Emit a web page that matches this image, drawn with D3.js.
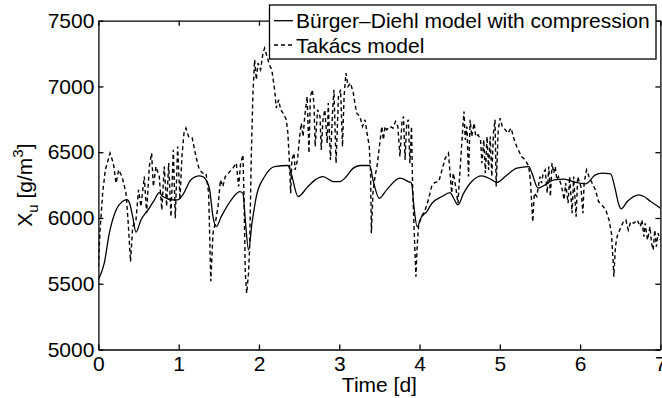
<!DOCTYPE html>
<html>
<head>
<meta charset="utf-8">
<script src="https://cdn.jsdelivr.net/npm/d3@7"></script>
<style>
  body { margin: 0; background: #fff; }
  text { font-family: "Liberation Sans", Arial, sans-serif; fill: #000; }
  .axis text { font-size: 21px; font-family: "Liberation Sans", Arial, sans-serif; }
  .axis path, .axis line { stroke: #000; stroke-width: 1.3px; }
</style>
</head>
<body>
<div id="chart"></div>
<script>
// Bürger-Diehl model with compression (solid)
var bdTime = [0, 0.073, 0.136, 0.22, 0.30, 0.355, 0.39, 0.427, 0.468, 0.53, 0.634, 0.70, 0.758, 0.80, 0.925, 0.987,
  1.05, 1.153, 1.257, 1.30, 1.34, 1.386, 1.427, 1.468, 1.53, 1.655, 1.76, 1.80, 1.83, 1.87, 1.913, 1.967,
  2.07, 2.195, 2.36, 2.40, 2.486, 2.61, 2.70, 2.797, 2.925, 3.01, 3.07, 3.175, 3.26, 3.38, 3.42, 3.50, 3.59,
  3.756, 3.86, 3.90, 3.93, 3.97, 4.026, 4.09, 4.155, 4.28, 4.38, 4.425, 4.478, 4.55, 4.65, 4.777, 4.90, 4.964,
  5.067, 5.213, 5.36, 5.40, 5.475, 5.565, 5.674, 5.80, 5.944, 6.07, 6.19, 6.275, 6.38, 6.43, 6.483, 6.51,
  6.587, 6.73, 6.795, 6.88, 7.0];
var bdValue = [5530, 5656, 5884, 6061, 6125, 6140, 6110, 6010, 5892, 5985, 6075, 6140, 6193, 6163, 6138, 6138,
  6176, 6290, 6320, 6315, 6290, 6214, 6010, 5934, 6010, 6138, 6201, 6189, 5985, 5757, 5960, 6163,
  6315, 6391, 6399, 6341, 6163, 6239, 6290, 6315, 6277, 6277, 6303, 6379, 6399, 6399, 6290, 6150, 6214,
  6303, 6277, 6265, 6087, 5934, 6010, 6049, 6112, 6163, 6193, 6150, 6100, 6189, 6277, 6320, 6290, 6270,
  6315, 6379, 6391, 6341, 6227, 6252, 6290, 6295, 6270, 6260, 6328, 6341, 6336, 6239, 6100, 6069,
  6125, 6176, 6163, 6125, 6075];

// Takács model (dashed)
var tkTime = [0, 0.02, 0.053, 0.086, 0.145, 0.186, 0.22, 0.253, 0.294, 0.344, 0.369, 0.40, 0.427, 0.468, 0.50,
  0.53, 0.572, 0.60, 0.634, 0.663, 0.684, 0.717, 0.758, 0.79, 0.82, 0.85, 0.875, 0.904, 0.933, 0.958, 0.987,
  1.016, 1.04, 1.066, 1.09, 1.124, 1.166, 1.215, 1.257, 1.30, 1.34, 1.373, 1.40, 1.427, 1.456, 1.49, 1.52,
  1.55, 1.58, 1.62, 1.676, 1.717, 1.747, 1.772, 1.80, 1.813, 1.83, 1.847, 1.87, 1.884, 1.905, 1.925, 1.946,
  1.967, 1.988, 2.02, 2.05, 2.07, 2.10, 2.13, 2.16, 2.195, 2.215, 2.245, 2.27, 2.30, 2.34, 2.36, 2.38, 2.395,
  2.41, 2.436, 2.45, 2.48, 2.507, 2.527, 2.55, 2.57, 2.60, 2.623, 2.64, 2.664, 2.685, 2.70, 2.73, 2.76, 2.776,
  2.797, 2.82, 2.85, 2.863, 2.89, 2.92, 2.934, 2.96, 2.99, 3.017, 3.04, 3.06, 3.083, 3.11, 3.14, 3.175,
  3.215, 3.257, 3.29, 3.32, 3.34, 3.374, 3.39, 3.40, 3.42, 3.445, 3.47, 3.50, 3.53, 3.55, 3.57, 3.59, 3.63,
  3.67, 3.70, 3.73, 3.756, 3.78, 3.80, 3.82, 3.84, 3.86, 3.88, 3.90, 3.914, 3.934, 3.955, 3.97, 3.99, 4.026,
  4.07, 4.11, 4.15, 4.19, 4.24, 4.28, 4.32, 4.36, 4.38, 4.40, 4.42, 4.45, 4.478, 4.507, 4.537, 4.553, 4.57,
  4.59, 4.61, 4.63, 4.65, 4.68, 4.70, 4.73, 4.76, 4.777, 4.80, 4.82, 4.84, 4.86, 4.88, 4.90, 4.92, 4.94,
  4.955, 4.98, 5.005, 5.03, 5.07, 5.10, 5.14, 5.18, 5.21, 5.24, 5.27, 5.317, 5.36, 5.38, 5.39, 5.41, 5.43,
  5.46, 5.48, 5.50, 5.52, 5.54, 5.565, 5.59, 5.61, 5.63, 5.65, 5.67, 5.69, 5.71, 5.73, 5.77, 5.80, 5.82,
  5.85, 5.87, 5.90, 5.92, 5.95, 5.97, 6.01, 6.035, 6.05, 6.08, 6.11, 6.15, 6.19, 6.23, 6.27, 6.32, 6.36,
  6.39, 6.41, 6.42, 6.44, 6.46, 6.51, 6.54, 6.57, 6.60, 6.63, 6.67, 6.71, 6.75, 6.77, 6.795, 6.81, 6.84,
  6.87, 6.89, 6.91, 6.93, 6.95, 6.97, 7.0];
var tkValue = [5630, 5900, 6189, 6366, 6493, 6417, 6265, 6366, 6315, 6189, 5985, 5668, 5934, 5985, 6214,
  6087, 6315, 6036, 6391, 6493, 6239, 6391, 6315, 6061, 6391, 6087, 6417, 6010, 6518, 5998, 6543,
  6138, 6467, 6645, 6683, 6619, 6615, 6467, 6366, 6341, 6341, 6189, 5520, 5884, 5960, 6087, 6290,
  6239, 6315, 6341, 6379, 6417, 6239, 6417, 6480, 6189, 5580, 5428, 5580, 5782, 6493, 6950, 7203,
  7051, 7178, 7127, 7254, 7292, 7228, 7165, 7127, 6975, 6836, 6899, 6823, 6798, 6747, 6645, 6417, 6189,
  6442, 6493, 6366, 6442, 6619, 6721, 6619, 6772, 6924, 6493, 6924, 6975, 6874, 6543, 6823, 6772, 6518,
  6747, 6823, 6569, 6874, 6442, 6849, 6975, 6417, 6924, 6975, 6543, 6924, 7102, 7000, 7026, 6950,
  6798, 6772, 6696, 6747, 6670, 6543, 6341, 5884, 6189, 6315, 6391, 6543, 6696, 6594, 6696, 6670, 6696,
  6683, 6734, 6696, 6467, 6721, 6772, 6442, 6721, 6747, 6417, 6696, 6239, 5884, 5554, 5782, 5960, 6010,
  6061, 6138, 6239, 6270, 6277, 6366, 6455, 6493, 6341, 6189, 6341, 6239, 6112, 6391, 6670, 6810, 6594,
  6696, 6315, 6747, 6619, 6721, 6619, 6632, 6594, 6417, 6594, 6341, 6619, 6366, 6619, 6315, 6645, 6747,
  6239, 6670, 6759, 6696, 6670, 6645, 6683, 6594, 6543, 6505, 6467, 6442, 6391, 6290, 6189, 5970, 6189,
  6163, 6239, 6315, 6265, 6341, 6366, 6189, 6391, 6163, 6417, 6341, 6391, 6290, 6315, 6239, 6138, 6265,
  6112, 6315, 6036, 6315, 6010, 6315, 6239, 6036, 6265, 6366, 6315, 6265, 6214, 6125, 6100, 6061, 5985,
  5884, 5681, 5554, 5782, 5858, 5934, 5972, 5985, 5909, 5972, 5960, 5985, 5934, 5985, 5858, 5960, 5833,
  5934, 5808, 5757, 5909, 5782, 5884, 5833];

var xTicks = [0, 1, 2, 3, 4, 5, 6, 7];
var yTicks = [5000, 5500, 6000, 6500, 7000, 7500];
var seriesNames = ["Bürger\u2013Diehl model with compression", "Takács model"];

// svg params
var svgWidth = 662;
var svgHeight = 398;
var margin = { top: 20.7, right: 1.6, bottom: 48.5, left: 98.4 };
var chartWidth = svgWidth - margin.left - margin.right;
var chartHeight = svgHeight - margin.top - margin.bottom;

var svg = d3.select("#chart").append("svg")
  .attr("width", svgWidth)
  .attr("height", svgHeight);

var chartGroup = svg.append("g")
  .attr("transform", `translate(${margin.left}, ${margin.top})`);

var xScale = d3.scaleLinear().domain([0, 7]).range([0, chartWidth]);
var yScale = d3.scaleLinear().domain([5000, 7500]).range([chartHeight, 0]);

chartGroup.append("clipPath").attr("id", "plotClip")
  .append("rect").attr("width", chartWidth).attr("height", chartHeight);

// lines
var bdData = bdTime.map((t, i) => [t, bdValue[i]]);
var tkData = tkTime.map((t, i) => [t, tkValue[i]]);

var line = d3.line().x(d => xScale(d[0])).y(d => yScale(d[1]));
var smoothLine = d3.line().x(d => xScale(d[0])).y(d => yScale(d[1])).curve(d3.curveMonotoneX);

var lines = chartGroup.append("g").attr("clip-path", "url(#plotClip)");
lines.append("path")
  .attr("d", line(tkData))
  .attr("fill", "none")
  .attr("stroke", "#000")
  .attr("stroke-width", 1.4)
  .attr("stroke-dasharray", "4,3");
lines.append("path")
  .attr("d", smoothLine(bdData))
  .attr("fill", "none")
  .attr("stroke", "#000")
  .attr("stroke-width", 1.3);

// axes (ticks point inward, matlab style)
var fmt = d3.format("d");
chartGroup.append("g").attr("class", "axis")
  .attr("transform", `translate(0, ${chartHeight})`)
  .call(d3.axisBottom(xScale).tickValues(xTicks).tickFormat(fmt).tickSizeInner(-5).tickSizeOuter(0).tickPadding(7));
chartGroup.append("g").attr("class", "axis")
  .call(d3.axisLeft(yScale).tickValues(yTicks).tickFormat(fmt).tickSizeInner(-5).tickSizeOuter(0).tickPadding(4));
chartGroup.append("g").attr("class", "axis")
  .call(d3.axisTop(xScale).tickValues(xTicks).tickSizeInner(-5).tickSizeOuter(0).tickFormat(""));
chartGroup.append("g").attr("class", "axis")
  .attr("transform", `translate(${chartWidth}, 0)`)
  .call(d3.axisRight(yScale).tickValues(yTicks).tickSizeInner(-5).tickSizeOuter(0).tickFormat(""));

chartGroup.selectAll(".axis .tick text").style("font-size", "21px");

// axis titles
svg.append("text")
  .attr("x", margin.left + chartWidth / 2)
  .attr("y", 392)
  .attr("text-anchor", "middle")
  .style("font-size", "21px")
  .text("Time [d]");

var yTitle = svg.append("text")
  .attr("transform", `translate(32, ${margin.top + chartHeight / 2}) rotate(-90)`)
  .attr("text-anchor", "middle")
  .style("font-size", "21px");
yTitle.append("tspan").text("X");
yTitle.append("tspan").attr("dy", 6).style("font-size", "15px").text("u");
yTitle.append("tspan").attr("dy", -6).text(" [g/m");
yTitle.append("tspan").attr("dy", -9).style("font-size", "15px").text("3");
yTitle.append("tspan").attr("dy", 9).text("]");

// legend
var legend = svg.append("g");
legend.append("rect")
  .attr("x", 269.5)
  .attr("y", 5)
  .attr("width", 386.5)
  .attr("height", 54)
  .attr("fill", "#fff")
  .attr("stroke", "#000")
  .attr("stroke-width", 1.3);

var legendRows = [
  { name: seriesNames[0], dash: null, y: 20.7 },
  { name: seriesNames[1], dash: "4,3", y: 45 }
];
legendRows.forEach(function(row) {
  legend.append("line")
    .attr("x1", 274).attr("x2", 293)
    .attr("y1", row.y).attr("y2", row.y)
    .attr("stroke", "#000")
    .attr("stroke-width", 1.3)
    .attr("stroke-dasharray", row.dash);
  legend.append("text")
    .attr("x", 296)
    .attr("y", row.y + 7.5)
    .style("font-size", "21px")
    .text(row.name);
});
</script>
</body>
</html>
